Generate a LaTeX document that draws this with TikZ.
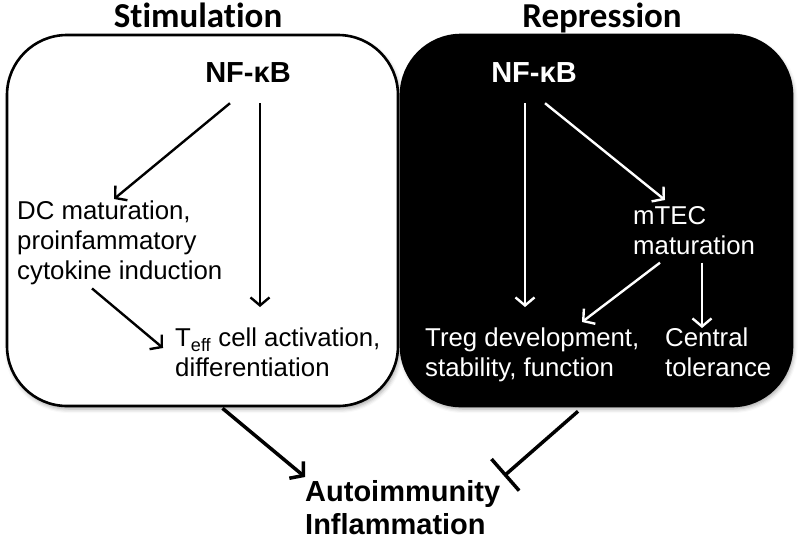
\documentclass[tikz,border=0pt]{standalone}
\usepackage{fontspec}
\setmainfont{Liberation Sans}
\newfontfamily\headfont[Ligatures=NoCommon]{Carlito}
\usetikzlibrary{arrows.meta,shadows.blur}

\begin{document}
\begin{tikzpicture}[x=1pt,y=-1pt,
	box/.style={rectangle,rounded corners=60pt,line width=2.6pt,minimum width=391pt,minimum height=371pt,
		blur shadow={shadow xshift=1.5pt,shadow yshift=-3pt,shadow blur radius=4pt,shadow opacity=35}},
	txt/.style={inner sep=0pt,anchor=north west,align=left,font=\fontsize{25.8}{30}\selectfont},
	head/.style={inner sep=0pt,anchor=base,font=\headfont\bfseries\fontsize{35}{40}\selectfont},
	nfkb/.style={inner sep=0pt,anchor=base,font=\bfseries\fontsize{29}{32}\selectfont},
	arr/.style={-{Straight Barb[length=8pt,width=19pt]},line width=2.4pt},
	big/.style={-{Straight Barb[length=9pt,width=22pt]},line width=3.5pt},
	inhib/.style={-{Bar[width=42pt]},line width=3.5pt}]
	\useasboundingbox (0,0) rectangle (800,539);
	% the two panels
	\node[box,draw=black,fill=white] (lbox) at (202.5,220.5) {};
	\node[box,draw=black,fill=black] (rbox) at (596.5,220.5) {};
	\node[head] (stim) at (198,27) {Stimulation};
	\node[head] (repr) at (602,27) {Repression};
	% stimulation side
	\node[nfkb] (nfl) at (248,82) {NF-κB};
	\node[txt] (dc) at (17,201) {DC maturation,\\proinfammatory\\cytokine induction};
	\node[txt] (teff) at (175,328) {T\textsubscript{eff} cell activation,\\differentiation};
	\draw[arr] ([xshift=-18pt,yshift=-21pt]nfl.south) -- ([xshift=97pt,yshift=2pt]dc.north west);
	\draw[arr] ([xshift=12pt,yshift=-21pt]nfl.south) -- ([xshift=85pt,yshift=21pt]teff.north west);
	\draw[arr] ([xshift=75pt,yshift=-3pt]dc.south west) -- ([xshift=-12pt,yshift=-20pt]teff.north west);
	% repression side
	\begin{scope}[white]
	\node[nfkb] (nfr) at (534,82) {NF-κB};
	\node[txt] (mtec) at (633,206) {mTEC\\maturation};
	\node[txt] (treg) at (425,328) {Treg development,\\stability, function};
	\node[txt] (ctol) at (665,328) {Central\\tolerance};
	\draw[arr] ([xshift=-9pt,yshift=-21pt]nfr.south) -- ([xshift=100pt,yshift=21pt]treg.north west);
	\draw[arr] ([xshift=11pt,yshift=-21pt]nfr.south) -- ([xshift=32pt,yshift=6pt]mtec.north west);
	\draw[arr] ([xshift=27pt,yshift=-8pt]mtec.south west) -- ([xshift=157pt,yshift=6pt]treg.north west);
	\draw[arr] ([xshift=69pt,yshift=-8pt]mtec.south west) -- ([xshift=37pt,yshift=0pt]ctol.north west);
	\end{scope}
	% outcome
	\node[inner sep=0pt,anchor=north west,align=left,font=\bfseries\fontsize{29}{33}\selectfont] (auto) at (305,480) {Autoimmunity\\Inflammation};
	\draw[big] ([xshift=20pt,yshift=-1pt]lbox.south) -- ([yshift=3pt]auto.north west);
	\draw[inhib] ([xshift=-18.5pt,yshift=-4pt]rbox.south) -- ([xshift=199pt,yshift=4pt]auto.north west);
\end{tikzpicture}
\end{document}
